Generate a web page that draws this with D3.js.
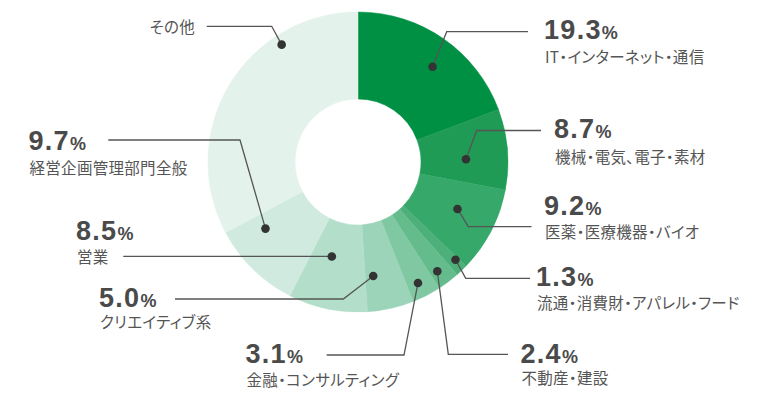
<!DOCTYPE html>
<html><head><meta charset="utf-8">
<script src="https://cdn.jsdelivr.net/npm/d3@7"></script>
<style>
html,body{margin:0;padding:0;background:#fff;}
svg{display:block;}
.cat{font-family:"Noto Sans CJK JP",sans-serif;font-size:15.5px;fill:#555;font-feature-settings:"palt";letter-spacing:0.3px;}
.num{font-family:"Liberation Sans",Arial,sans-serif;font-weight:bold;font-size:27px;fill:#4a4a4a;letter-spacing:1.3px;}
.pct{font-size:18px;letter-spacing:0;}
</style></head>
<body>
<script>
const categories = ["IT・インターネット・通信","機械・電気、電子・素材","医薬・医療機器・バイオ","流通・消費財・アパレル・フード","不動産・建設","金融・コンサルティング","クリエイティブ系","営業","経営企画管理部門全般","その他"];
const values = [19.3, 8.7, 9.2, 1.3, 2.4, 3.1, 5.0, 8.5, 9.7, 32.8];
const valueLabels = ["19.3","8.7","9.2","1.3","2.4","3.1","5.0","8.5","9.7",null];
const colors = ["#009043","#1f9b55","#35a86a","#4db07b","#64bc8d","#7fc8a2","#9bd4b8","#b3dfca","#d0eadf","#e3f2eb"];

// layout (positions only)
const W = 761, H = 397, cx = 358, cy = 162, rOuter = 150, rInner = 63;
const dotLayout = [[3.3,121],[3.4,108],[-2.1,110],[-1.2,138],[1.1,135],[0.8,135],[5,115],[3.8,98],[9.8,114],[26,140]];
const leaderLayout = [
  {elbow:[446.7,31.7], end:528},
  {elbow:[476.7,130.5], end:541},
  {elbow:[468.3,226.7], end:531.5},
  {elbow:[465.7,278.3], end:530},
  {elbow:[448.3,354.3], end:508},
  {elbow:[404,355], end:326.7},
  {elbow:[343.3,299], end:175},
  {elbow:null, y:256.7, end:123.3},
  {elbow:[240,140], end:108.3},
  {elbow:[271.7,26.3], end:206.7}
];
const labelLayout = [
  {x:544, ny:39.3, cy:56.3},
  {x:554, ny:138.3, cy:156.3},
  {x:544, ny:215, cy:230.8},
  {x:536, ny:286, cy:301.7},
  {x:520.5, ny:362.7, cy:376.8},
  {x:245.5, ny:363.3, cy:379.2},
  {x:99, ny:306.7, cy:320.8},
  {x:76, ny:240, cy:255.8},
  {x:28.5, ny:150, cy:166.7},
  {x:195, ny:null, cy:26.3, anchor:"end"}
];

const svg = d3.select("body").append("svg").attr("width", W).attr("height", H);
const g = svg.append("g").attr("transform", `translate(${cx},${cy})`);

const pie = d3.pie().sort(null).value(d => d);
const arcs = pie(values);
const arc = d3.arc().innerRadius(rInner).outerRadius(rOuter);

g.selectAll("path.slice").data(arcs).enter().append("path")
  .attr("class","slice")
  .attr("d", arc)
  .attr("fill", (d,i) => colors[i])
  .attr("stroke", (d,i) => colors[i])
  .attr("stroke-width", 0.5);

const toRad = Math.PI/180;
const dots = arcs.map((a,i) => {
  const ang = (a.startAngle + a.endAngle)/2 + dotLayout[i][0]*toRad;
  const r = dotLayout[i][1];
  return [cx + r*Math.sin(ang), cy - r*Math.cos(ang)];
});

// leader lines
const lineGen = d3.line();
leaderLayout.forEach((L,i) => {
  const p = dots[i];
  let pts;
  if (L.elbow) pts = [p, L.elbow, [L.end, L.elbow[1]]];
  else pts = [p, [L.end, p[1]]];
  svg.append("path").attr("d", lineGen(pts)).attr("fill","none")
    .attr("stroke","#555").attr("stroke-width",1.3);
});

svg.selectAll("circle.dot").data(dots).enter().append("circle")
  .attr("class","dot").attr("cx", d => d[0]).attr("cy", d => d[1]).attr("r", 4.3)
  .attr("fill","#333");

// labels
labelLayout.forEach((L,i) => {
  if (valueLabels[i] !== null) {
    const t = svg.append("text").attr("class","num").attr("x", L.x).attr("y", L.ny);
    t.append("tspan").text(valueLabels[i]);
    t.append("tspan").attr("class","pct").attr("dx", 0).text("%");
  }
  svg.append("text").attr("class","cat").attr("x", L.anchor === "end" ? L.x : L.x + 1)
    .attr("y", L.cy).attr("dominant-baseline","central")
    .attr("text-anchor", L.anchor || "start").text(categories[i]);
});
</script>
</body></html>
